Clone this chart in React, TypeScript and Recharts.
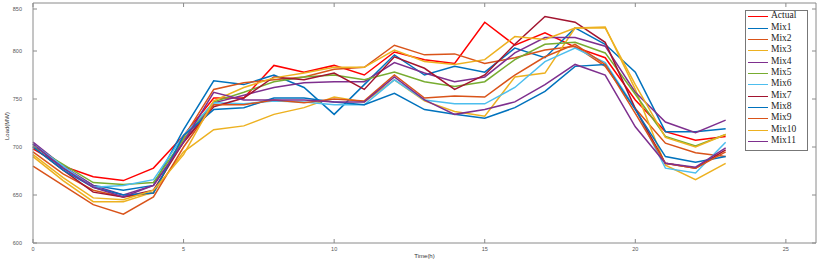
import { LineChart, Line, XAxis, YAxis, Legend, ReferenceLine } from 'recharts'

const hours = [0, 1, 2, 3, 4, 5, 6, 7, 8, 9, 10, 11, 12, 13, 14, 15, 16, 17, 18, 19, 20, 21, 22, 23]

const actual = [698, 680, 669, 665, 678, 712, 751, 751, 785, 778, 785, 775, 799, 791, 787, 830, 806, 819, 804, 793, 749, 716, 707, 711]
const mix1 = [703, 678, 660, 655, 660, 718, 769, 765, 775, 762, 734, 765, 796, 775, 784, 778, 803, 793, 824, 807, 778, 716, 716, 719]
const mix2 = [695, 672, 655, 648, 652, 710, 760, 767, 770, 773, 781, 783, 806, 796, 797, 787, 793, 801, 805, 784, 740, 704, 694, 690]
const mix3 = [690, 665, 643, 643, 653, 695, 718, 722, 734, 741, 752, 747, 770, 748, 737, 732, 773, 777, 824, 825, 760, 681, 666, 683]
const mix4 = [705, 680, 660, 650, 660, 705, 746, 754, 762, 767, 768, 768, 788, 777, 768, 773, 798, 814, 814, 805, 757, 726, 715, 728]
const mix5 = [701, 682, 663, 661, 663, 708, 747, 757, 768, 773, 775, 770, 778, 768, 763, 768, 791, 807, 809, 798, 755, 711, 701, 713]
const mix6 = [703, 680, 658, 660, 666, 712, 746, 745, 748, 747, 744, 744, 770, 749, 745, 745, 762, 789, 803, 788, 740, 678, 673, 705]
const mix7 = [700, 676, 653, 648, 655, 705, 742, 751, 773, 770, 777, 760, 794, 782, 760, 775, 807, 836, 830, 809, 740, 683, 678, 697]
const mix8 = [700, 676, 658, 650, 652, 712, 739, 741, 751, 751, 747, 744, 756, 739, 734, 730, 741, 758, 784, 786, 739, 690, 684, 690]
const mix9 = [680, 660, 640, 630, 648, 700, 744, 744, 749, 746, 750, 748, 775, 751, 753, 752, 775, 794, 807, 786, 735, 683, 678, 695]
const mix10 = [692, 668, 647, 645, 655, 692, 748, 762, 772, 777, 783, 783, 801, 789, 786, 791, 815, 812, 824, 824, 765, 710, 700, 713]
const mix11 = [703, 678, 658, 648, 660, 705, 757, 749, 749, 749, 747, 747, 773, 749, 734, 739, 747, 765, 786, 775, 721, 683, 679, 699]

const yTicks = [600, 650, 700, 750, 800, 850]
const xTicks = [0, 5, 10, 15, 20, 25]

const series = [
  { key: 'Actual', values: actual, color: '#FF0000' },
  { key: 'Mix1', values: mix1, color: '#0072BD' },
  { key: 'Mix2', values: mix2, color: '#D95319' },
  { key: 'Mix3', values: mix3, color: '#EDB120' },
  { key: 'Mix4', values: mix4, color: '#7E2F8E' },
  { key: 'Mix5', values: mix5, color: '#77AC30' },
  { key: 'Mix6', values: mix6, color: '#4DBEEE' },
  { key: 'Mix7', values: mix7, color: '#A2142F' },
  { key: 'Mix8', values: mix8, color: '#0072BD' },
  { key: 'Mix9', values: mix9, color: '#D95319' },
  { key: 'Mix10', values: mix10, color: '#EDB120' },
  { key: 'Mix11', values: mix11, color: '#7E2F8E' },
]

const data = hours.map((h, i) => {
  const row: Record<string, number> = { hour: h }
  series.forEach((s) => {
    row[s.key] = s.values[i]
  })
  return row
})

const AXIS = '#8a8a8a'
const TICK_TEXT = '#555'
const PLOT_W = 783
const PLOT_H = 240

// matlab style ticks: pointing inwards, also mirrored on the opposite side
function YTick({ x, y, payload }: any) {
  return (
    <g>
      <line x1={x} x2={x + 4} y1={y} y2={y} stroke={AXIS} />
      <line x1={x + PLOT_W} x2={x + PLOT_W - 4} y1={y} y2={y} stroke={AXIS} />
      <text x={x - 11} y={y + 2} textAnchor="end" fontSize={5.5} fill={TICK_TEXT} fontFamily="'Liberation Sans', Arial, sans-serif">
        {payload.value}
      </text>
    </g>
  )
}

function XTick({ x, y, payload }: any) {
  return (
    <g>
      <line x1={x} x2={x} y1={y} y2={y - 4} stroke={AXIS} />
      <line x1={x} x2={x} y1={y - PLOT_H} y2={y - PLOT_H + 4} stroke={AXIS} />
      <text x={x} y={y + 8} textAnchor="middle" fontSize={5.5} fill={TICK_TEXT} fontFamily="'Liberation Sans', Arial, sans-serif">
        {payload.value}
      </text>
    </g>
  )
}

// legend keeps the plotting order (recharts sorts by name otherwise)
function LegendBox() {
  return (
    <div
      style={{
        border: '1px solid #777',
        background: '#fff',
        width: 63,
        boxSizing: 'border-box',
        paddingBottom: 3,
        fontFamily: "'Liberation Serif', 'Times New Roman', serif",
        fontSize: 9.5,
        color: '#222',
      }}
    >
      {series.map((s) => (
        <div key={s.key} style={{ display: 'flex', alignItems: 'center', height: 11.35, whiteSpace: 'nowrap' }}>
          <span style={{ width: 20, borderTop: `1.6px solid ${s.color}`, marginLeft: 2, marginRight: 3 }} />
          <span style={{ lineHeight: '11px', marginTop: -2 }}>{s.key}</span>
        </div>
      ))}
    </div>
  )
}

export default function App() {
  return (
    <div style={{ position: 'absolute', left: 0, top: 0, width: 817, height: 262, background: '#fff' }}>
      <LineChart width={817} height={262} data={data} margin={{ top: 3, right: 1, left: 0, bottom: 0 }}>
        <XAxis
          dataKey="hour"
          type="number"
          domain={[0, 26]}
          ticks={xTicks}
          height={19}
          stroke={AXIS}
          tickLine={false}
          tickSize={0}
          tickMargin={0}
          tick={<XTick />}
          label={{
            content: ({ viewBox }: any) => (
              <text x={viewBox.x + viewBox.width / 2} y={258} textAnchor="middle" fontSize={6} fill="#333" fontFamily="'Liberation Sans', Arial, sans-serif">
                Time(h)
              </text>
            ),
          }}
        />
        <YAxis
          type="number"
          domain={[600, 850]}
          ticks={yTicks}
          width={33}
          stroke={AXIS}
          tickLine={false}
          tickSize={0}
          tickMargin={0}
          tick={<YTick />}
          label={{
            content: ({ viewBox }: any) => {
              const cy = viewBox.y + viewBox.height / 2 + 3
              return (
                <text x={9} y={cy} transform={`rotate(-90 9 ${cy})`} textAnchor="middle" fontSize={6} fill="#333" fontFamily="'Liberation Sans', Arial, sans-serif">
                  Load(MW)
                </text>
              )
            },
          }}
        />
        <ReferenceLine y={850} stroke={AXIS} />
        <ReferenceLine x={26} stroke={AXIS} />
        {series.map((s) => (
          <Line
            key={s.key}
            dataKey={s.key}
            type="linear"
            stroke={s.color}
            strokeWidth={1.5}
            dot={false}
            isAnimationActive={false}
          />
        ))}
        <Legend
          layout="horizontal"
          verticalAlign="middle"
          content={<LegendBox />}
          wrapperStyle={{ position: 'absolute', left: 745, top: 10, width: 63 }}
        />
      </LineChart>
    </div>
  )
}
